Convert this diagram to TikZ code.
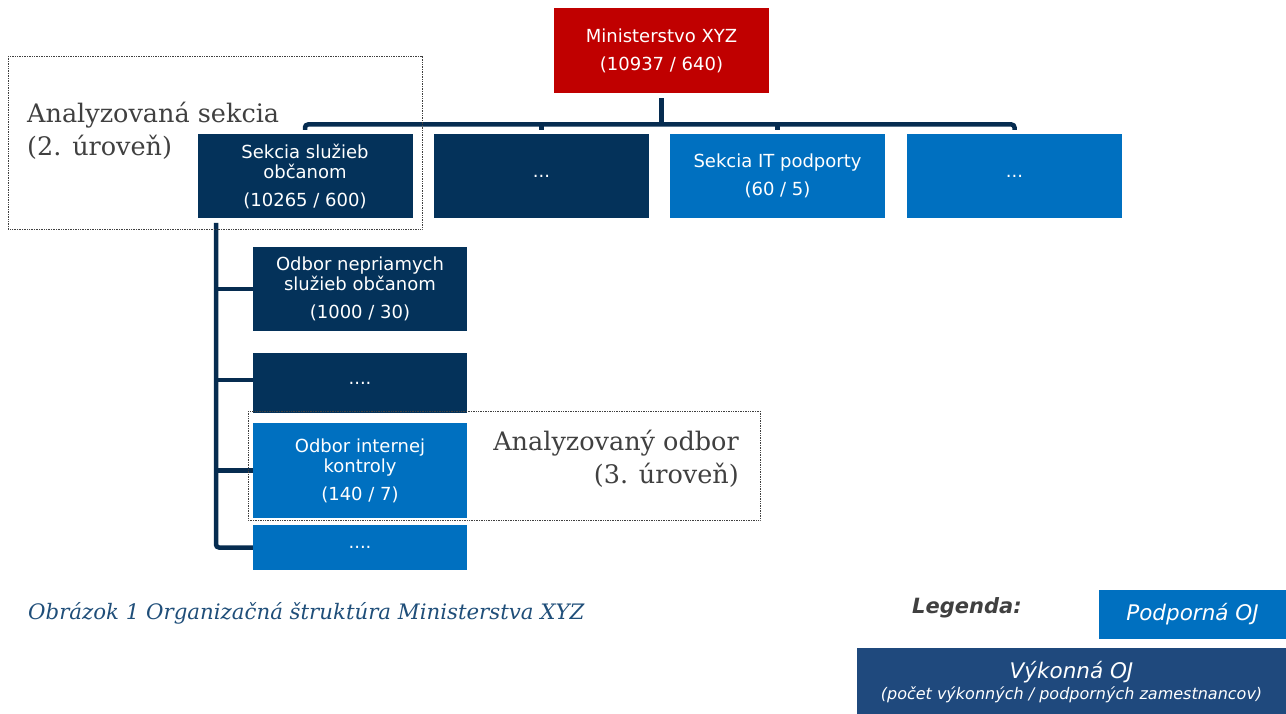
\documentclass[tikz,border=0pt]{standalone}
\usepackage{fontspec}
\setmainfont{DejaVu Serif}
\newfontfamily\boxfont{DejaVu Sans}
\definecolor{navy}{HTML}{04325A}
\definecolor{conncol}{HTML}{062C50}
\definecolor{suppblue}{HTML}{0070C0}
\definecolor{minred}{HTML}{C00000}
\definecolor{legnavy}{HTML}{1F497D}
\definecolor{labgray}{HTML}{404040}
\definecolor{capblue}{HTML}{1F4E79}
\tikzset{
  unit/.style={inner sep=0pt, minimum width=215pt, align=center, text=white,
    font=\boxfont\fontsize{18}{20}\selectfont},
  execbox/.style={unit, fill=navy},
  suppbox/.style={unit, fill=suppblue},
  minbox/.style={unit, fill=minred},
  conn/.style={draw=conncol, line width=4.5pt},
  frame/.style={draw=black!75, densely dotted, line width=0.7pt},
  biglabel/.style={inner sep=0pt, text=labgray, font=\fontsize{25.5}{33}\selectfont},
}
\begin{document}
\begin{tikzpicture}[x=1pt,y=-1pt]
\useasboundingbox (0,0) rectangle (1286,714);
% top
\node[minbox, minimum height=85pt] (min) at (661.5,50.5) {Ministerstvo XYZ\\[8pt](10937 / 640)};
% level 2
\node[execbox, minimum height=84pt] (s1) at (305,176) {Sekcia služieb\\občanom\\[8pt](10265 / 600)};
\node[execbox, minimum height=84pt] (s2) at (541.5,176) {...};
\node[suppbox, minimum height=84pt] (s3) at (777.5,176) {Sekcia IT podporty\\[8pt](60 / 5)};
\node[suppbox, minimum height=84pt] (s4) at (1014.5,176) {...};
% level 3
\node[execbox, minimum width=214pt, minimum height=84pt] (o1) at (360,289) {Odbor nepriamych\\služieb občanom\\[8pt](1000 / 30)};
\node[execbox, minimum width=214pt, minimum height=60pt] (o2) at (360,383) {....};
\node[suppbox, minimum width=214pt, minimum height=95pt] (o3) at (360,470.5) {Odbor internej\\kontroly\\[8pt](140 / 7)};
\node[suppbox, minimum width=214pt, minimum height=45pt] (o4) at (360,547.5) {....};
% connectors
\coordinate (hb) at (0,124.5);
\draw[conn, shorten <=5pt] (min.south) -- (min.south |- hb);
\draw[conn, rounded corners=3pt, shorten <=4pt, shorten >=4pt] (s1.north) -- (s1.north |- hb) -- (s4.north |- hb) -- (s4.north);
\draw[conn, shorten >=4pt] (s2.north |- hb) -- (s2.north);
\draw[conn, shorten >=4pt] (s3.north |- hb) -- (s3.north);
\coordinate (vtop) at (216,223);
\draw[conn, rounded corners=3pt] (vtop) -- (vtop |- o4.west) -- (o4.west);
\draw[conn] (vtop |- o1.west) -- (o1.west);
\draw[conn] (216,380) -- (o2.west |- 0,380);
\draw[conn] (vtop |- o3.west) -- (o3.west);
% frames
\draw[frame] (8,56) rectangle (422,229);
\draw[frame] (248,411) rectangle (760,520);
% labels
\node[biglabel, anchor=north west, align=left] (lab1) at (27,102) {Analyzovaná sekcia\\(2. úroveň)};
\node[biglabel, anchor=north east, align=right] (lab2) at (739,430) {Analyzovaný odbor\\(3. úroveň)};
% caption
\node[anchor=base west, inner sep=0pt, text=capblue, font=\itshape\fontsize{21.3}{24}\selectfont] (cap) at (28,619) {Obrázok 1 Organizačná štruktúra Ministerstva XYZ};
% legend
\node[anchor=base west, inner sep=0pt, text=labgray, font=\boxfont\bfseries\itshape\fontsize{21}{24}\selectfont] (leg) at (912,613) {Legenda:};
\node[fill=suppblue, minimum width=187pt, minimum height=49pt, inner sep=0pt, text=white, font=\boxfont\itshape\fontsize{21.5}{24}\selectfont] (lsupp) at (1192.5,614.5) {Podporná OJ};
\node[fill=legnavy, minimum width=429pt, minimum height=68pt, inner sep=0pt, text=white, align=center, font=\boxfont\itshape\fontsize{21.5}{24}\selectfont] (lexec) at (1071.5,682) {Výkonná OJ\\[-3pt]{\fontsize{16}{18}\selectfont (počet výkonných / podporných zamestnancov)}};
\end{tikzpicture}
\end{document}
